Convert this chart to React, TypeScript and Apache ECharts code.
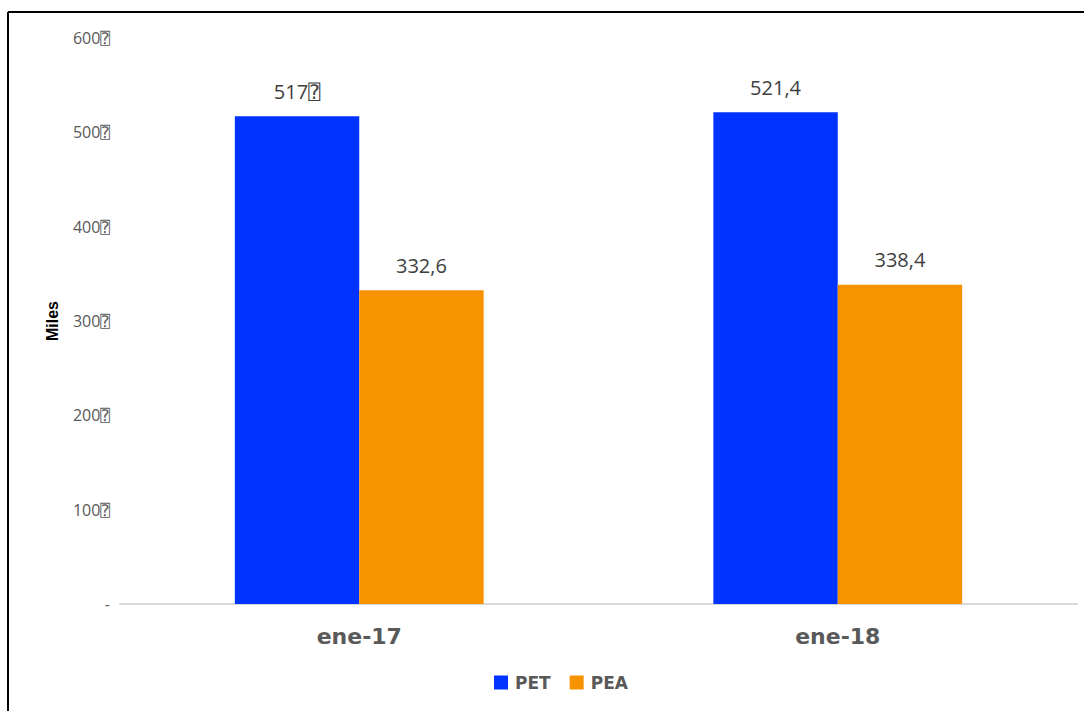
import React, { useEffect, useRef } from "react";
import * as echarts from "echarts";

const categories = ["ene-17", "ene-18"];
const petValues = [517, 521.4];
const peaValues = [332.6, 338.4];
const petLabels = ["517\u2370", "521,4"];
const peaLabels = ["332,6", "338,4"];
const yTicks = [0, 100, 200, 300, 400, 500, 600];

const numFont = "'Open Sans', 'DejaVu Sans', 'DejaVu Sans Mono'";

export default function App() {
  const ref = useRef<HTMLDivElement>(null);
  useEffect(() => {
    const chart = echarts.init(ref.current!, null, { renderer: "svg" });
    const labelStyle = {
      show: true,
      position: "top",
      distance: 15,
      fontFamily: numFont,
      fontSize: 20,
      color: "#404040",
    };
    chart.setOption({
      animation: false,
      backgroundColor: "#ffffff",
      grid: { left: 120, right: 7, top: 38, bottom: 107 },
      legend: {
        bottom: 20,
        left: 494,
        padding: 0,
        icon: "rect",
        itemWidth: 14,
        itemHeight: 14,
        itemGap: 19,
        textStyle: {
          fontFamily: "DejaVu Sans",
          fontWeight: "bold",
          fontSize: 17,
          color: "#595959",
          padding: [0, 0, 0, 2],
        },
        data: ["PET", "PEA"],
      },
      xAxis: {
        type: "category",
        data: categories,
        axisLine: { lineStyle: { color: "#d9d9d9", width: 2 } },
        axisTick: { show: false },
        axisLabel: { margin: 21, fontFamily: "DejaVu Sans", fontWeight: "bold", fontSize: 22, color: "#595959" },
      },
      yAxis: {
        type: "value",
        min: 0,
        max: 600,
        interval: 100,
        name: "Miles",
        nameLocation: "middle",
        nameGap: 60,
        nameTextStyle: { fontFamily: "Liberation Sans", fontWeight: "bold", fontSize: 16, color: "#000000" },
        splitLine: { show: false },
        axisLine: { show: false },
        axisTick: { show: false },
        axisLabel: {
          margin: 10,
          fontFamily: numFont,
          fontSize: 16,
          color: "#595959",
          formatter: (v: number) => (v === yTicks[0] ? "-" : String(v) + "\u2370"),
        },
      },
      series: [
        {
          name: "PET",
          type: "bar",
          data: petValues,
          barGap: "0%",
          barCategoryGap: "48%",
          itemStyle: { color: "#0033ff" },
          label: { ...labelStyle, formatter: (p: any) => petLabels[p.dataIndex] },
        },
        {
          name: "PEA",
          type: "bar",
          data: peaValues,
          barGap: "0%",
          barCategoryGap: "48%",
          itemStyle: { color: "#f79200" },
          label: { ...labelStyle, formatter: (p: any) => peaLabels[p.dataIndex] },
        },
      ],
      graphic: [
        { type: "line", shape: { x1: 8, y1: 12, x2: 1084, y2: 12 }, style: { stroke: "#000", lineWidth: 2 } },
        { type: "line", shape: { x1: 8, y1: 12, x2: 8, y2: 711 }, style: { stroke: "#000", lineWidth: 2 } },
      ],
    });
    return () => chart.dispose();
  }, []);
  return (
    <div
      ref={ref}
      style={{ position: "fixed", left: 0, top: 0, width: 1084, height: 711 }}
    />
  );
}
